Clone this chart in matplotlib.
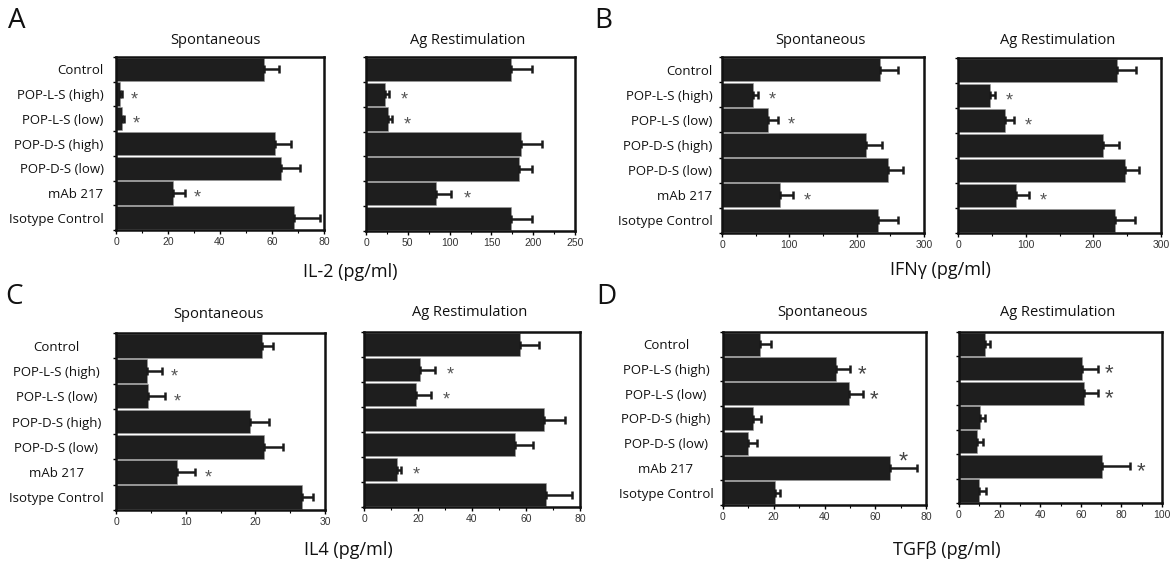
import matplotlib
matplotlib.use("Agg")
import matplotlib.pyplot as plt
from matplotlib.ticker import MultipleLocator, FixedLocator
import numpy as np

categories = ["Control", "POP-L-S (high)", "POP-L-S (low)", "POP-D-S (high)",
              "POP-D-S (low)", "mAb 217", "Isotype Control"]

# IL-2
il2_spont = [57.0, 1.5, 2.3, 61.0, 63.5, 21.8, 68.6]
il2_spont_err = [5.8, 0.8, 0.8, 6.3, 7.4, 4.7, 9.9]
il2_ag = [174, 22.5, 26.5, 185, 183, 84, 174]
il2_ag_err = [25, 4.5, 4.5, 25, 16, 18, 25]
il2_sig = [1, 2, 5]

# IFN-gamma
ifn_spont = [234, 46.5, 69, 214, 247, 86, 232]
ifn_spont_err = [27, 6.5, 13.5, 24, 22, 19.5, 29.5]
ifn_ag = [235, 47, 69, 214, 247, 86, 232]
ifn_ag_err = [28, 7, 14, 24, 21, 19, 29]
ifn_sig = [1, 2, 5]

# IL4
il4_spont = [21.0, 4.5, 4.6, 19.2, 21.3, 8.8, 26.7]
il4_spont_err = [1.6, 2.1, 2.4, 2.8, 2.6, 2.6, 1.6]
il4_ag = [57.8, 20.7, 19.4, 66.5, 56.0, 12.3, 67.5]
il4_ag_err = [6.9, 5.6, 5.4, 7.9, 6.5, 1.3, 9.4]
il4_sig = [1, 2, 5]

# TGF-beta
tgf_spont = [14.5, 44.7, 49.7, 12.0, 10.0, 65.7, 20.6]
tgf_spont_err = [4.5, 5.5, 5.5, 3.0, 3.4, 10.8, 1.7]
tgf_ag = [13.0, 60.6, 61.6, 10.5, 9.0, 70.6, 10.0]
tgf_ag_err = [2.4, 7.7, 6.7, 2.5, 2.6, 13.8, 3.3]
tgf_sig = [1, 2, 5]

W, H = 1175, 563
fig = plt.figure(figsize=(W / 100, H / 100), dpi=100)
fig.patch.set_facecolor("white")

LABEL_FONT = ["Open Sans", "DejaVu Sans"]
TICK_FONT = ["Liberation Sans", "DejaVu Sans"]
BAR_COLOR = "#1e1e1e"


def px_axes(x0, y0, x1, y1):
    return fig.add_axes([x0 / W, 1 - y1 / H, (x1 - x0) / W, (y1 - y0) / H])


def panel(box, vals, errs, sig, xmax, major, show_labels, label_align,
          label_pad, star_off, star_size, star_color, star_above=None):
    ax = px_axes(*box)
    y = np.arange(len(vals))
    ax.barh(y, vals, height=0.94, color=BAR_COLOR, edgecolor="#9a9a9a",
            linewidth=0.4, zorder=2)
    ax.errorbar(vals, y, xerr=[np.zeros(len(vals)), errs], fmt="none",
                ecolor="#1a1a1a", elinewidth=1.8, capsize=3.2,
                capthick=1.8, zorder=3)
    for i in sig:
        xe = vals[i] + errs[i]
        if star_above is not None and i == star_above:
            ax.text(xe - 0.07 * xmax, i - 0.2, "*", fontsize=star_size + 1,
                    color=star_color, ha="center", va="center",
                    family=TICK_FONT, zorder=4)
        else:
            ax.text(xe + star_off * xmax, i + 0.22, "*", fontsize=star_size,
                    color=star_color, ha="center", va="center",
                    family=TICK_FONT, zorder=4)
    ax.set_xlim(0, xmax)
    ax.set_ylim(len(vals) - 0.5, -0.5)
    ax.xaxis.set_major_locator(MultipleLocator(major))
    ax.xaxis.set_minor_locator(MultipleLocator(major / 2))
    ax.yaxis.set_major_locator(FixedLocator(list(y)))
    ax.yaxis.set_minor_locator(FixedLocator(list(np.arange(-0.5, len(vals), 1.0))))
    ax.tick_params(axis="x", which="major", direction="out", length=3,
                   width=1.0, labelsize=7.5, labelcolor="#333333", pad=2)
    ax.tick_params(axis="x", which="minor", direction="out", length=2, width=0.8)
    ax.tick_params(axis="y", which="major", length=0, pad=label_pad)
    ax.tick_params(axis="y", which="minor", direction="out", length=2.5, width=1.0)
    for lab in ax.get_xticklabels():
        lab.set_family(TICK_FONT)
    if show_labels:
        ax.set_yticklabels(categories, fontsize=9.5, family=LABEL_FONT,
                           ha=label_align, color="#111111")
    else:
        ax.set_yticklabels([])
    for s in ax.spines.values():
        s.set_linewidth(1.8)
        s.set_color("#111111")
    return ax


def title_at(x, y, s):
    fig.text(x / W, 1 - y / H, s, ha="center", va="center", fontsize=10.5,
             family=LABEL_FONT, color="#111111")


def letter_at(x, y, s):
    fig.text(x / W, 1 - y / H, s, ha="center", va="center", fontsize=20,
             family=LABEL_FONT, color="#111111")


def xlabel_at(x, y, s):
    fig.text(x / W, 1 - y / H, s, ha="center", va="center", fontsize=13,
             family=LABEL_FONT, color="#111111")


# Panel A
panel((116, 57, 324, 230), il2_spont, il2_spont_err, il2_sig, 80, 20, True,
      "right", 9, 0.06, 13, "#555555")
panel((366, 57, 575, 231), il2_ag, il2_ag_err, il2_sig, 250, 50, False,
      "right", 4, 0.075, 13, "#555555")
title_at(215, 40, "Spontaneous")
title_at(468, 40, "Ag Restimulation")
letter_at(17, 21, "A")
xlabel_at(350, 272, "IL-2 (pg/ml)")

# Panel B
panel((722, 57, 924, 233), ifn_spont, ifn_spont_err, ifn_sig, 300, 100, True,
      "right", 7, 0.07, 13, "#555555")
panel((958, 58, 1161, 233), ifn_ag, ifn_ag_err, ifn_sig, 300, 100, False,
      "right", 4, 0.07, 13, "#555555")
title_at(820, 40, "Spontaneous")
title_at(1058, 40, "Ag Restimulation")
letter_at(603, 21, "B")
xlabel_at(940, 270, "IFN\u03b3 (pg/ml)")

# Panel C
panel((116, 333, 325, 510), il4_spont, il4_spont_err, il4_sig, 30, 10, True,
      "center", 43, 0.06, 13, "#555555")
panel((364, 332, 580, 507), il4_ag, il4_ag_err, il4_sig, 80, 20, False,
      "right", 4, 0.07, 13, "#555555")
title_at(218, 314, "Spontaneous")
title_at(470, 313, "Ag Restimulation")
letter_at(14, 297, "C")
xlabel_at(348, 550, "IL4 (pg/ml)")

# Panel D
panel((723, 332, 926, 505), tgf_spont, tgf_spont_err, tgf_sig, 80, 20, True,
      "center", 41, 0.055, 16, "#444444", star_above=5)
panel((959, 332, 1162, 503), tgf_ag, tgf_ag_err, tgf_sig, 100, 20, False,
      "right", 4, 0.055, 16, "#444444")
title_at(822, 313, "Spontaneous")
title_at(1058, 313, "Ag Restimulation")
letter_at(606, 297, "D")
xlabel_at(947, 550, "TGF\u03b2 (pg/ml)")

fig.savefig("out.png", dpi=100, facecolor="white")
